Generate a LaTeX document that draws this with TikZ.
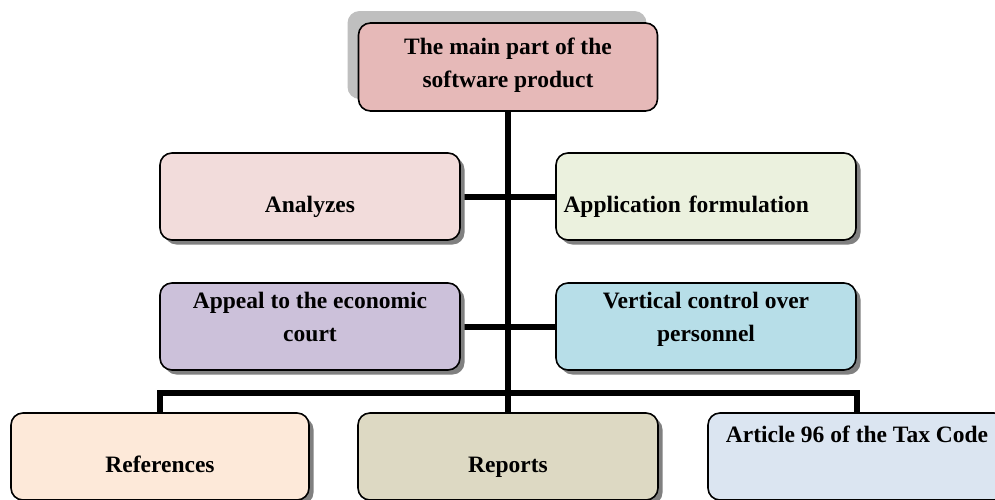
\documentclass[tikz,border=0pt]{standalone}
\usepackage{fontspec}
\setmainfont{Liberation Serif}
\usetikzlibrary{shadows,backgrounds}
\definecolor{mainred}{HTML}{E6B9B8}
\definecolor{palered}{HTML}{F2DCDB}
\definecolor{palegreen}{HTML}{EBF1DE}
\definecolor{lilac}{HTML}{CCC1DA}
\definecolor{paleteal}{HTML}{B7DEE8}
\definecolor{peach}{HTML}{FDE9D9}
\definecolor{khaki}{HTML}{DDD9C3}
\definecolor{paleblue}{HTML}{DBE5F1}
\definecolor{shadowdark}{HTML}{808080}
\definecolor{shadowlight}{HTML}{BFBFBF}
\tikzset{
  box/.style={draw=black, line width=1.6pt, rounded corners=12pt,
    minimum width=300pt, minimum height=87pt, inner sep=6pt,
    align=center, font=\fontsize{23.5}{33}\selectfont\bfseries},
  lowtext/.style={text height=53pt, text depth=22pt},
  toptext/.style={text height=23pt, text depth=52pt},
  twolines/.style={text height=52pt, text depth=23pt},
  darkshadow/.style={drop shadow={shadow xshift=4.5pt, shadow yshift=-4.5pt,
    fill=shadowdark, opacity=1}},
  lightshadow/.style={drop shadow={shadow xshift=-11pt, shadow yshift=12pt,
    fill=shadowlight, opacity=1}},
  conn/.style={line width=6pt}
}
\begin{document}
\begin{tikzpicture}[x=1pt,y=-1pt]
\useasboundingbox (0,0) rectangle (995,499);
\clip (0,0) rectangle (995,499);
% top of the tree
\node [box, lightshadow, fill=mainred, minimum width=299pt, minimum height=88pt, text height=58pt, text depth=18pt] (main) at (508,67) {The main part of the\\software product};
% side branches
\node [box, darkshadow, lowtext, fill=palered] (analyzes) at (310,196.5) {Analyzes};
\node [box, darkshadow, lowtext, fill=palegreen, text width=285pt, align=left] (application) at (706,196.5) {Application formulation};
\node [box, darkshadow, twolines, fill=lilac] (appeal) at (310,326.5) {Appeal to the economic\\court};
\node [box, darkshadow, twolines, fill=paleteal] (vertical) at (706,326.5) {Vertical control over\\personnel};
% bottom row
\node [box, darkshadow, lowtext, fill=peach, minimum width=298pt] (references) at (160,456.5) {References};
\node [box, darkshadow, lowtext, fill=khaki] (reports) at (508,456.5) {Reports};
\node [box, darkshadow, toptext, fill=paleblue, minimum width=298pt] (article) at (857,456.5) {Article 96 of the Tax Code};
\coordinate (bar) at (508,393);
\begin{scope}[on background layer]
\draw [conn] (main.south) -- (reports.north);
\draw [conn] (analyzes.east) -- (application.west);
\draw [conn] (appeal.east) -- (vertical.west);
\draw [conn] (references.north) |- (bar) -| (article.north);
\end{scope}
\end{tikzpicture}
\end{document}
